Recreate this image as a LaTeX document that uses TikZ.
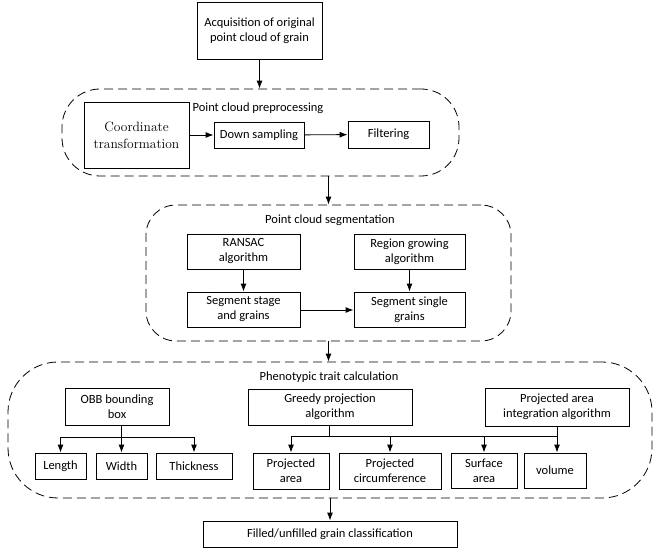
\documentclass[tikz,border=0pt]{standalone}
\usepackage{fontspec}
\setsansfont{Carlito}
\usetikzlibrary{positioning,arrows.meta}

\begin{document}
\begin{tikzpicture}[x=1pt,y=-1pt,line width=0.9pt,>={Latex[length=8pt,width=6pt]},
  font=\sffamily\fontsize{12.5}{15}\selectfont,
  box/.style={draw,rectangle,align=center,inner sep=0pt},
  group/.style={draw,dashed,dash pattern=on 9pt off 5pt,line width=0.8pt,inner sep=0pt},
  title/.style={inner sep=1pt}]
\useasboundingbox (0,0) rectangle (660,553);

% acquisition
\node[box,minimum width=125pt,minimum height=57pt] (acq) at (259.5,30.5) {Acquisition of original\\point cloud of grain};

% preprocessing
\node[group,rounded corners=38pt,minimum width=397pt,minimum height=87pt] (pre) at (260.5,132.5) {};
\node[title] (pretitle) at (258,108) {Point cloud preprocessing};
\node[box,minimum width=105pt,minimum height=66pt,font=\rmfamily\fontsize{13.5}{17}\selectfont] (coord) at (136.5,135) {Coordinate\\transformation};
\node[box,minimum width=90pt,minimum height=26pt] (down) at (259,135) {Down sampling};
\node[box,minimum width=81pt,minimum height=27pt] (filt) at (388.5,134.5) {Filtering};

% segmentation
\node[group,rounded corners=30pt,minimum width=365pt,minimum height=136pt] (seg) at (328.5,273) {};
\node[title] (segtitle) at (330,220) {Point cloud segmentation};
\node[box,minimum width=113pt,minimum height=35pt] (ransac) at (243.5,251.5) {RANSAC\\algorithm};
\node[box,minimum width=111pt,minimum height=35pt] (region) at (409.5,251.5) {Region growing\\algorithm};
\node[box,minimum width=113pt,minimum height=35pt] (stage) at (243.5,309.5) {Segment stage\\and grains};
\node[box,minimum width=111pt,minimum height=35pt] (single) at (409.5,309.5) {Segment single\\grains};

% phenotypic traits
\node[group,rounded corners=50pt,minimum width=644pt,minimum height=136pt] (phen) at (330,430) {};
\node[title] (phentitle) at (329,377) {Phenotypic trait calculation};
\node[box,minimum width=104pt,minimum height=37pt] (obb) at (117,406.5) {OBB bounding\\box};
\node[box,minimum width=164pt,minimum height=36pt] (greedy) at (330,407) {Greedy projection\\algorithm};
\node[box,minimum width=144pt,minimum height=38pt] (integ) at (557,407) {Projected area\\integration algorithm};
\node[box,minimum width=51pt,minimum height=26pt] (len) at (60.5,466) {Length};
\node[box,minimum width=51pt,minimum height=26pt] (wid) at (121.5,466) {Width};
\node[box,minimum width=76pt,minimum height=26pt] (thick) at (194,466) {Thickness};
\node[box,minimum width=76pt,minimum height=36pt] (parea) at (291,471) {Projected\\area};
\node[box,minimum width=102pt,minimum height=36pt] (pcirc) at (390,471) {Projected\\circumference};
\node[box,minimum width=66pt,minimum height=35pt] (surf) at (484,470.5) {Surface\\area};
\node[box,minimum width=62pt,minimum height=35pt] (vol) at (555,470.5) {volume};

% classification
\node[box,minimum width=254pt,minimum height=26pt] (filled) at (330,534) {Filled/unfilled grain classification};

\coordinate (obbbus) at (122,437);
\coordinate (gbus) at (329,436);

\draw[->](acq)--(acq.south |- pre.north);
\draw[->](pre.south -| seg.north)--(seg.north);
\draw[->](coord.east |- down.west)--(down.west);
\draw[->](down)--(filt);
\draw[->](ransac)--(stage);
\draw[->](region)--(single);
\draw[->](stage.east |- 0,310)--(single.west |- 0,310);
\draw[->](seg.south)--(seg.south |- phen.north);
\draw[->](obb.south -| wid.north)--(wid.north);
\draw[->](obbbus)-|(len.north);
\draw[->](obbbus)-|(thick.north);
\draw(greedy.south -| gbus)--(gbus)--(gbus -| integ.south);
\draw[->](gbus)-|(parea.north);
\draw[->](gbus)-|(pcirc.north);
\draw[->](gbus)-|(surf.north);
\draw[->](integ.south)--(integ.south |- vol.north);
\draw[->](phen.south)--(filled.north);
\end{tikzpicture}
\end{document}
